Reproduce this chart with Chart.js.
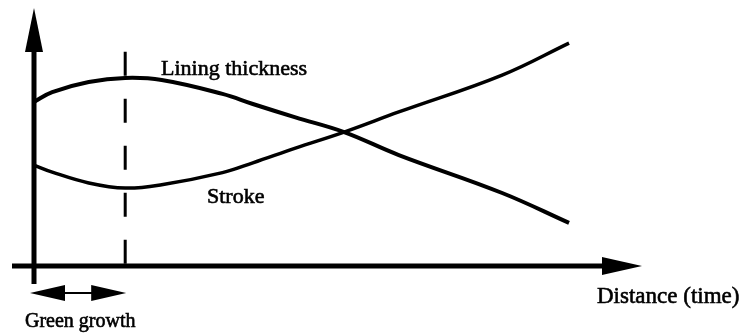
<!DOCTYPE html>
<html>
<head>
<meta charset="utf-8">
<script src="https://cdn.jsdelivr.net/npm/chart.js@4"></script>
<style>
  body { margin: 0; background: #fff; }
  #wrap { width: 743px; height: 333px; position: relative; }
</style>
</head>
<body>
<div id="wrap"><canvas id="schemeChart"></canvas></div>
<script>
// distance along the pipe (arbitrary units, 0 = start)
const distance = [0, 0.3, 0.9, 1.5, 2.1, 3.1, 3.6, 4.3, 5.1, 6.0, 7.7, 8.8];
// curves (arbitrary units)
const liningThickness = [6.36, 6.74, 7.13, 7.29, 7.21, 6.67, 6.28, 5.76, 5.19, 4.30, 2.83, 1.67];
const stroke = [3.91, 3.64, 3.22, 3.02, 3.15, 3.62, 4.00, 4.57, 5.19, 5.97, 7.40, 8.64];
// end of the green growth period
const greenGrowthEnd = 1.5;
const curveLabels = ["Lining thickness", "Stroke"];

const SERIF = '"Liberation Serif", "Times New Roman", serif';

// text drawn a bit heavier, like the scanned original
function heavyText(ctx, txt, px, x, y) {
  ctx.font = px + 'px ' + SERIF;
  ctx.lineWidth = 0.6;
  ctx.fillText(txt, x, y);
  ctx.strokeText(txt, x, y);
}

// draws the arrow axes, the dashed marker, the double arrow and the texts
const sketchPlugin = {
  id: 'sketch',
  afterDatasetsDraw(chart) {
    const { ctx, scales: { x, y } } = chart;
    const x0 = x.getPixelForValue(0);
    const y0 = y.getPixelForValue(0);
    const xg = x.getPixelForValue(greenGrowthEnd);
    ctx.save();
    ctx.fillStyle = '#000';
    ctx.strokeStyle = '#000';

    // dashed vertical line at end of green growth
    ctx.lineWidth = 3;
    ctx.setLineDash([24, 23]);
    ctx.beginPath();
    ctx.moveTo(xg, y.getPixelForValue(8.3));
    ctx.lineTo(xg, y0);
    ctx.stroke();
    ctx.setLineDash([]);

    // y axis with arrow
    ctx.lineWidth = 5;
    ctx.beginPath();
    ctx.moveTo(x0, y0 + 18);
    ctx.lineTo(x0, chart.chartArea.top + 40);
    ctx.stroke();
    ctx.beginPath();
    ctx.moveTo(x0, chart.chartArea.top);
    ctx.lineTo(x0 - 9, chart.chartArea.top + 44);
    ctx.lineTo(x0 + 9, chart.chartArea.top + 44);
    ctx.closePath();
    ctx.fill();

    // x axis with arrow
    const xr = chart.chartArea.right;
    ctx.beginPath();
    ctx.moveTo(x0 - 22, y0);
    ctx.lineTo(xr - 36, y0);
    ctx.stroke();
    ctx.beginPath();
    ctx.moveTo(xr, y0);
    ctx.lineTo(xr - 40, y0 - 9);
    ctx.lineTo(xr - 40, y0 + 9);
    ctx.closePath();
    ctx.fill();

    // double arrow for green growth
    const ya = y0 + 27;
    const xa = x0 - 4;
    ctx.lineWidth = 2;
    ctx.beginPath();
    ctx.moveTo(xa + 30, ya);
    ctx.lineTo(xg - 30, ya);
    ctx.stroke();
    ctx.beginPath();
    ctx.moveTo(xa, ya);
    ctx.lineTo(xa + 35, ya - 8);
    ctx.lineTo(xa + 35, ya + 8);
    ctx.closePath();
    ctx.fill();
    ctx.beginPath();
    ctx.moveTo(xg + 1, ya);
    ctx.lineTo(xg - 34, ya - 8);
    ctx.lineTo(xg - 34, ya + 8);
    ctx.closePath();
    ctx.fill();

    // texts
    ctx.textBaseline = 'alphabetic';
    ctx.textAlign = 'left';
    heavyText(ctx, curveLabels[0], 22, 161, 75);
    heavyText(ctx, curveLabels[1], 22, 207, 203);
    heavyText(ctx, 'Distance (time)', 23, 597, 303);
    heavyText(ctx, 'Green growth', 20, 25, 327);
    ctx.restore();
  }
};

window.addEventListener("DOMContentLoaded", () => {
  const ctx = document.getElementById("schemeChart").getContext("2d");

  new Chart(ctx, {
    type: 'line',
    data: {
      datasets: [
        {
          label: curveLabels[0],
          data: distance.map((d, i) => ({ x: d, y: liningThickness[i] })),
          borderColor: '#000',
          borderWidth: 4,
          pointRadius: 0,
          tension: 0.4,
          clip: false
        },
        {
          label: curveLabels[1],
          data: distance.map((d, i) => ({ x: d, y: stroke[i] })),
          borderColor: '#000',
          borderWidth: 3.5,
          pointRadius: 0,
          tension: 0.4,
          clip: false
        }
      ]
    },
    options: {
      responsive: true,
      maintainAspectRatio: false,
      animation: false,
      layout: { padding: { left: 34, right: 101, top: 8, bottom: 67 } },
      plugins: {
        legend: { display: false },
        tooltip: { enabled: false }
      },
      scales: {
        x: { type: 'linear', min: 0, max: 10, display: false },
        y: { min: 0, max: 10, display: false }
      }
    },
    plugins: [sketchPlugin]
  });
});
</script>
</body>
</html>
